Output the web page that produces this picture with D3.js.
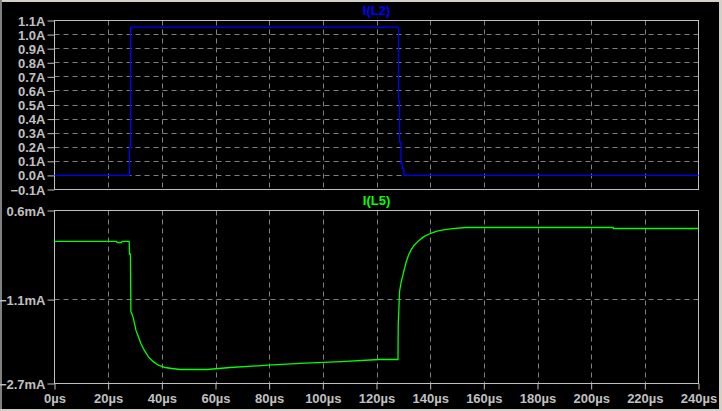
<!DOCTYPE html>
<html><head><meta charset="utf-8">
<script src="https://cdn.jsdelivr.net/npm/d3@7"></script>
<style>html,body{margin:0;padding:0;background:#000;overflow:hidden}</style>
</head><body><svg id="c" width="722" height="411"></svg>
<script>
// ---- data ----
const xTicks = [0,20,40,60,80,100,120,140,160,180,200,220,240];
const topTicks = [-0.1,0.0,0.1,0.2,0.3,0.4,0.5,0.6,0.7,0.8,0.9,1.0,1.1];
const bottomTicks = [0.6,-1.1,-2.7];
const topTitle = "I(L2)";
const bottomTitle = "I(L5)";

// I(L2), time in µs, current in A
const l2Time = [0, 27.95, 27.95, 28.35, 28.35, 128.2, 128.2, 128.6, 128.6, 129.1, 129.1, 129.6, 129.6, 130.2, 130.2, 240];
const l2Amps = [0, 0, 0.2, 0.2, 1.053, 1.053, 0.529, 0.529, 0.237, 0.237, 0.085, 0.085, 0.05, 0.05, 0.0, 0.0];

// I(L5), time in µs, current in mA
const l5Time = [0, 23.0, 23.4, 24.9, 25.2, 27.84, 27.95, 28.3, 28.47, 29.07, 29.7, 30.34, 31.3, 32.2, 33.43, 35.03, 36.9, 38.76, 41.26, 43.75, 46.84, 56.9, 65.5, 79.6, 93.4, 106.8, 121.0, 128.0, 128.1, 128.6, 129.2, 129.84, 130.44, 131.07, 131.93, 132.82, 134.05, 135.65, 137.52, 140.0, 142.5, 144.97, 147.5, 153.1, 208.2, 208.3, 240];
const l5mA = [0.01, 0.01, -0.01, -0.01, 0.01, 0.01, -0.234, -0.234, -1.334, -1.397, -1.525, -1.683, -1.811, -1.937, -2.065, -2.193, -2.288, -2.351, -2.395, -2.414, -2.433, -2.433, -2.395, -2.351, -2.313, -2.281, -2.242, -2.242, -1.575, -0.94, -0.762, -0.634, -0.506, -0.381, -0.253, -0.157, -0.062, 0.02, 0.096, 0.161, 0.205, 0.23, 0.249, 0.276, 0.276, 0.257, 0.257];

// ---- drawing ----
const svg = d3.select("#c");
const W = 722, H = 411;
const frameCol = "#c0c0c0", gridCol = "#808080", textCol = "#c0c0c0";
const font = "'Liberation Sans', Arial, sans-serif";

svg.append("rect").attr("width", W).attr("height", H).attr("fill", "#000");
// window borders
svg.append("rect").attr("x",0).attr("y",0).attr("width",W).attr("height",2).attr("fill","#d4d0c8");
svg.append("rect").attr("x",0).attr("y",0).attr("width",2).attr("height",H).attr("fill","#808080");
svg.append("rect").attr("x",719).attr("y",0).attr("width",3).attr("height",H).attr("fill","#d4d0c8");
svg.append("rect").attr("x",0).attr("y",409).attr("width",W).attr("height",2).attr("fill","#d4d0c8");

const x = d3.scaleLinear().domain([0,240]).range([54.5, 698.5]);
const yTop = d3.scaleLinear().domain([-0.1,1.1]).range([189.5, 20.5]);
const yBot = d3.scaleLinear().domain([-2.7,0.6]).range([383.5, 210.5]);

function panel(y, yTicks, fmt, title, color, tTime, tVals, showX, titleY) {
  const g = svg.append("g");
  const [y0, y1] = y.range();
  // vertical dashed grid
  g.selectAll(".vg").data(xTicks.slice(1, -1)).join("line")
    .attr("x1", d => Math.round(x(d)) + 0.5).attr("x2", d => Math.round(x(d)) + 0.5)
    .attr("y1", y1).attr("y2", y0)
    .attr("stroke", gridCol).attr("stroke-dasharray", "5,4");
  // horizontal dashed grid
  const yd = y.domain();
  g.selectAll(".hg").data(yTicks.filter(d => Math.abs(d - yd[0]) > 1e-9 && Math.abs(d - yd[1]) > 1e-9)).join("line")
    .attr("x1", x.range()[0]).attr("x2", x.range()[1])
    .attr("y1", d => Math.round(y(d) - 0.5) + 0.5).attr("y2", d => Math.round(y(d) - 0.5) + 0.5)
    .attr("stroke", gridCol).attr("stroke-dasharray", "5,4");
  // frame
  g.append("rect").attr("x", x.range()[0]).attr("y", y1)
    .attr("width", x.range()[1] - x.range()[0]).attr("height", y0 - y1)
    .attr("fill", "none").attr("stroke", frameCol);
  // y axis ticks & labels
  const ya = d3.axisLeft(y).tickValues(yTicks).tickSize(7).tickPadding(2).tickFormat(fmt);
  const ag = g.append("g").attr("transform", `translate(${x.range()[0]},0)`).call(ya);
  ag.select(".domain").remove();
  ag.selectAll(".tick line").attr("stroke", frameCol);
  ag.selectAll(".tick text").attr("fill", textCol).attr("font-family", font)
    .attr("font-size", 13).attr("font-weight", "bold").attr("dy", "0.35em");
  if (showX) {
    const xa = d3.axisBottom(x).tickValues(xTicks).tickSize(6).tickPadding(4).tickFormat(d => d + "µs");
    const xg = g.append("g").attr("transform", `translate(0,${y0})`).call(xa);
    xg.select(".domain").remove();
    xg.selectAll(".tick line").attr("stroke", frameCol);
    xg.selectAll(".tick text").attr("fill", textCol).attr("font-family", font)
      .attr("font-size", 13).attr("font-weight", "bold").attr("dy", "0.71em");
  }
  // title
  g.append("text").attr("x", (x.range()[0] + x.range()[1]) / 2).attr("y", titleY)
    .attr("text-anchor", "middle").attr("fill", color).attr("font-family", font)
    .attr("font-size", 13).attr("font-weight", "bold").text(title);
  // trace
  const pts = tTime.map((t, i) => [t, tVals[i]]);
  g.append("path").datum(pts)
    .attr("d", d3.line().x(d => x(d[0])).y(d => y(d[1])))
    .attr("fill", "none").attr("stroke", color).attr("stroke-width", 1.3);
}

panel(yTop, topTicks, d => d3.format(".1f")(d) + "A", topTitle, "#0000ff", l2Time, l2Amps, false, 15);
panel(yBot, bottomTicks, d => d3.format(".1f")(d) + "mA", bottomTitle, "#00ff00", l5Time, l5mA, true, 205);
</script>
</body></html>
